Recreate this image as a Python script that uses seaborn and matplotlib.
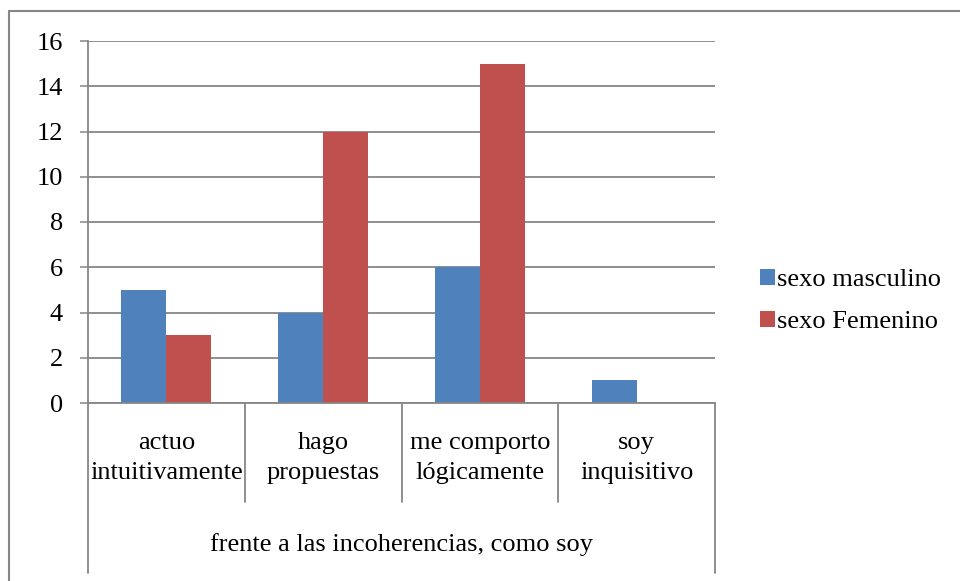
import numpy as np
import pandas as pd
import seaborn as sns
import matplotlib.pyplot as plt
from matplotlib.lines import Line2D
from matplotlib.patches import Patch
import matplotlib.transforms as mtransforms

categorias = ["actuo\nintuitivamente", "hago\npropuestas", "me comporto\nlógicamente", "soy\ninquisitivo"]
series = ["sexo masculino", "sexo Femenino"]
masculino = [5, 4, 6, 1]
femenino = [3, 12, 15, 0]
grupo = "frente a las incoherencias, como soy"
yticks = [0, 2, 4, 6, 8, 10, 12, 14, 16]

colores = ["#4F81BD", "#C0504D"]
gris = "#868686"

df = pd.DataFrame({
    "cat": categorias * 2,
    "serie": [series[0]] * 4 + [series[1]] * 4,
    "valor": masculino + femenino,
})

sns.set_style("white")
plt.rcParams["font.family"] = ["Liberation Serif", "DejaVu Serif"]
plt.rcParams["text.color"] = "black"
plt.rcParams["ytick.labelcolor"] = "black"
FS = 19

W, H = 960, 581
fig = plt.figure(figsize=(W / 100, H / 100), dpi=100)
ax = fig.add_axes([88 / W, 1 - 403 / H, (715 - 88) / W, (403 - 41) / H])

sns.barplot(data=df, x="cat", y="valor", hue="serie", palette=colores,
            width=0.573, gap=0, saturation=1, edgecolor="none", ax=ax, legend=False)

ax.set_xlim(-0.5, 3.5)
ax.set_ylim(0, 16)
ax.set_yticks(yticks)
ax.set_yticklabels([str(v) for v in yticks], fontsize=FS, color="black")
ax.yaxis.grid(True, color=gris, linewidth=1.3)
ax.set_axisbelow(True)
ax.tick_params(axis="y", length=6, width=1.1, color=gris, direction="out", pad=12, left=True)
ax.tick_params(axis="x", bottom=False, labelbottom=False)
ax.set_xlabel("")
ax.set_ylabel("")
for s in ["top", "right"]:
    ax.spines[s].set_visible(False)
for s in ["left", "bottom"]:
    ax.spines[s].set_color(gris)
    ax.spines[s].set_linewidth(1.3)

# multi-level category axis
trans = mtransforms.blended_transform_factory(ax.transData, fig.transFigure)
for i, b in enumerate(np.arange(-0.5, 4.0, 1.0)):
    y_end = 573 if i in (0, 4) else 502
    fig.add_artist(Line2D([b, b], [1 - 403 / H, 1 - y_end / H], transform=trans,
                          color=gris, linewidth=1.3, clip_on=False))
for i, c in enumerate(categorias):
    fig.text(i, 1 - 458 / H, c, transform=trans, ha="center", va="center",
             fontsize=FS, linespacing=1.45, color="black")
fig.text(1.5, 1 - 545 / H, grupo, transform=trans, ha="center", va="center",
         fontsize=FS, color="black")

# legend
handles = [Patch(facecolor=c, edgecolor="none") for c in colores]
leg = fig.legend(handles, series, loc="center left", bbox_to_anchor=(760 / W, 1 - 301 / H),
                 frameon=False, fontsize=FS, handlelength=0.55, handleheight=0.55,
                 handletextpad=0.1, labelspacing=0.75, borderpad=0, borderaxespad=0)
for t in leg.get_texts():
    t.set_color("black")

# chart border
fig.add_artist(Line2D([9 / W, 1], [1 - 11 / H, 1 - 11 / H], transform=fig.transFigure,
                      color=gris, linewidth=1.5))
fig.add_artist(Line2D([9 / W, 9 / W], [0, 1 - 11 / H], transform=fig.transFigure,
                      color=gris, linewidth=1.5))

fig.savefig("out.png", dpi=100)
